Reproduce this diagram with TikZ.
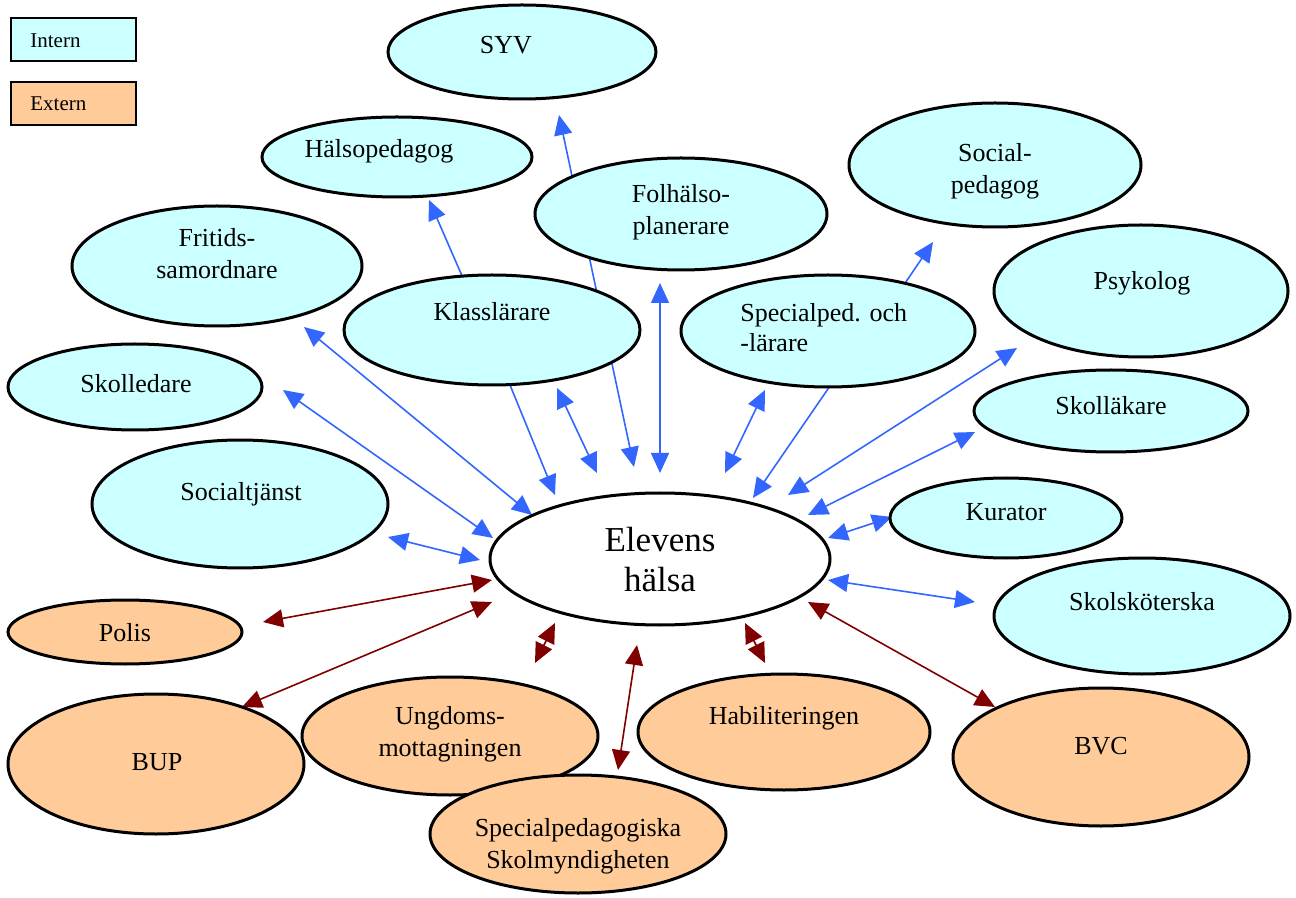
\documentclass[tikz,border=0pt]{standalone}
\usepackage{fontspec}
\setmainfont{Liberation Serif}
\usetikzlibrary{shapes.geometric,arrows.meta}
\definecolor{cin}{HTML}{CCFFFF}
\definecolor{cex}{HTML}{FFCC99}
\definecolor{ablue}{HTML}{3366FF}
\definecolor{ared}{HTML}{800000}
\tikzset{
  ell/.style={ellipse,draw=black,line width=1.5pt,inner sep=0pt},
  intern/.style={ell,fill=cin},
  extern/.style={ell,fill=cex},
  lbl/.style={font=\fontsize{13}{16}\selectfont,align=center,inner sep=0pt},
  tip/.tip={Triangle[length=10pt,width=9pt]},
  barr/.style={draw=ablue,line width=0.8pt,{tip}-{tip}},
  sarr/.style={draw=ablue,line width=0.8pt,-{tip}},
  rarr/.style={draw=ared,line width=0.8pt,{tip}-{tip}},
  legbox/.style={draw=black,line width=0.8pt,minimum width=62.5pt,minimum height=21.5pt,inner sep=0pt}
}
\begin{document}
\begin{tikzpicture}[x=0.5pt,y=-0.5pt]
\useasboundingbox (0,0) rectangle (1296,898);
% arrow endpoints
\coordinate (fr1) at (304,327); \coordinate (fr2) at (532,515);
\coordinate (sl1) at (283,390); \coordinate (sl2) at (493,538);
\coordinate (st1) at (388,537); \coordinate (st2) at (480,560);
\coordinate (kl1) at (510,385); \coordinate (kl2) at (555,495);
\coordinate (kd1) at (557,388); \coordinate (kd2) at (597,473);
\coordinate (sy1) at (634,467); \coordinate (sy2) at (559,115);
\coordinate (fv1) at (660,283); \coordinate (fv2) at (660,473);
\coordinate (sd1) at (765,390); \coordinate (sd2) at (725,473);
\coordinate (sp1) at (830,386); \coordinate (sp2) at (753,498);
\coordinate (hp1) at (466,285); \coordinate (hp2) at (429,200);
\coordinate (so1) at (897,295); \coordinate (so2) at (933,242);
\coordinate (ps1) at (1017,348); \coordinate (ps2) at (788,495);
\coordinate (sk1) at (975,432); \coordinate (sk2) at (808,515);
\coordinate (ku1) at (892,517); \coordinate (ku2) at (828,538);
\coordinate (ss1) at (828,580); \coordinate (ss2) at (975,602);
\coordinate (po1) at (263,622); \coordinate (po2) at (492,580);
\coordinate (bu1) at (242,707); \coordinate (bu2) at (492,602);
\coordinate (ug1) at (555,623); \coordinate (ug2) at (535,663);
\coordinate (hb1) at (745,623); \coordinate (hb2) at (765,663);
\coordinate (spm1) at (637,645); \coordinate (spm2) at (618,770);
\coordinate (bv1) at (808,602); \coordinate (bv2) at (995,707);
% arrows behind
\draw[barr] (fr1) -- (fr2);
\draw[barr] (sl1) -- (sl2);
\draw[barr] (st1) -- (st2);
\draw[sarr] (kl1) -- (kl2);
\draw[barr] (kd1) -- (kd2);
\draw[barr] (sy1) -- (sy2);
\draw[barr] (fv1) -- (fv2);
\draw[barr] (sd1) -- (sd2);
\draw[sarr] (sp1) -- (sp2);
\draw[sarr] (hp1) -- (hp2);
\draw[sarr] (so1) -- (so2);
\draw[barr] (ps1) -- (ps2);
\draw[barr] (sk1) -- (sk2);
\draw[barr] (ku1) -- (ku2);
\draw[barr] (ss1) -- (ss2);
\draw[rarr] (po1) -- (po2);
\draw[rarr] (bu1) -- (bu2);
\draw[rarr] (ug1) -- (ug2);
\draw[rarr] (hb1) -- (hb2);
\draw[rarr] (spm1) -- (spm2);
\draw[rarr] (bv1) -- (bv2);
% ellipses
\node[intern,minimum width=134pt,minimum height=47pt] (syv) at (522,52) {};
\node[intern,minimum width=135pt,minimum height=40pt] (hal) at (397,157) {};
\node[intern,minimum width=146pt,minimum height=56pt] (fol) at (681,214) {};
\node[intern,minimum width=146pt,minimum height=62pt] (soc) at (995,165) {};
\node[intern,minimum width=145pt,minimum height=60pt] (fri) at (217,266) {};
\node[intern,minimum width=148pt,minimum height=55pt] (kla) at (492,330) {};
\node[intern,minimum width=147pt,minimum height=56pt] (spe) at (828,331) {};
\node[intern,minimum width=147pt,minimum height=66pt] (psy) at (1141,291) {};
\node[intern,minimum width=127pt,minimum height=43pt] (sle) at (135,387) {};
\node[intern,minimum width=137pt,minimum height=41pt] (sla) at (1111,411) {};
\node[intern,minimum width=148pt,minimum height=64pt] (sot) at (240,504) {};
\node[intern,minimum width=116pt,minimum height=40pt] (kur) at (1006,518) {};
\node[ell,fill=white,minimum width=170pt,minimum height=66pt] (ele) at (660,559) {};
\node[intern,minimum width=148pt,minimum height=58pt] (sks) at (1142,616) {};
\node[extern,minimum width=117pt,minimum height=32pt] (pol) at (125,632) {};
\node[extern,minimum width=148pt,minimum height=70pt] (bup) at (156,764) {};
\node[extern,minimum width=148pt,minimum height=59pt] (ung) at (450,736) {};
\node[extern,minimum width=146pt,minimum height=58pt] (hab) at (784,732) {};
\node[extern,minimum width=148pt,minimum height=69pt] (bvc) at (1101,757) {};
\node[extern,minimum width=148pt,minimum height=59pt] (spm) at (578,834) {};
% labels
\node[lbl] (tsyv) at (506,45) {SYV};
\node[lbl] (thal) at (379,151) {Hälsopedagog};
\node[lbl] (tfol) at (681,212) {Folhälso-\\planerare};
\node[lbl] (tsoc) at (995,171) {Social-\\pedagog};
\node[lbl] (tfri) at (217,254) {Fritids-\\samordnare};
\node[lbl] (tkla) at (492,312) {Klasslärare};
\node[lbl,align=left,anchor=west,font=\fontsize{13}{15}\selectfont] (tspe) at (740,328) {Specialped. och\\-lärare};
\node[lbl] (tpsy) at (1142,283) {Psykolog};
\node[lbl] (tsle) at (136,384) {Skolledare};
\node[lbl] (tsla) at (1111,406) {Skolläkare};
\node[lbl] (tsot) at (241,494) {Socialtjänst};
\node[lbl] (tkur) at (1006,512) {Kurator};
\node[lbl,font=\fontsize{17.5}{20}\selectfont] (tele) at (660,560) {Elevens\\hälsa};
\node[lbl] (tsks) at (1142,602) {Skolsköterska};
\node[lbl] (tpol) at (125,633) {Polis};
\node[lbl] (tbup) at (157,762) {BUP};
\node[lbl] (tung) at (450,734) {Ungdoms-\\mottagningen};
\node[lbl] (thab) at (784,718) {Habiliteringen};
\node[lbl] (tbvc) at (1101,746) {BVC};
\node[lbl] (tspm) at (578,846) {Specialpedagogiska\\Skolmyndigheten};
% legend
\node[legbox,fill=cin,anchor=north west] (lin) at (10,17) {};
\node[legbox,fill=cex,anchor=north west] (lex) at (10,81) {};
\node[anchor=west,inner sep=0pt,font=\fontsize{10.5}{12}\selectfont] (tin) at (30,41) {Intern};
\node[anchor=west,inner sep=0pt,font=\fontsize{10.5}{12}\selectfont] (tex) at (30,104) {Extern};
\end{tikzpicture}
\end{document}
